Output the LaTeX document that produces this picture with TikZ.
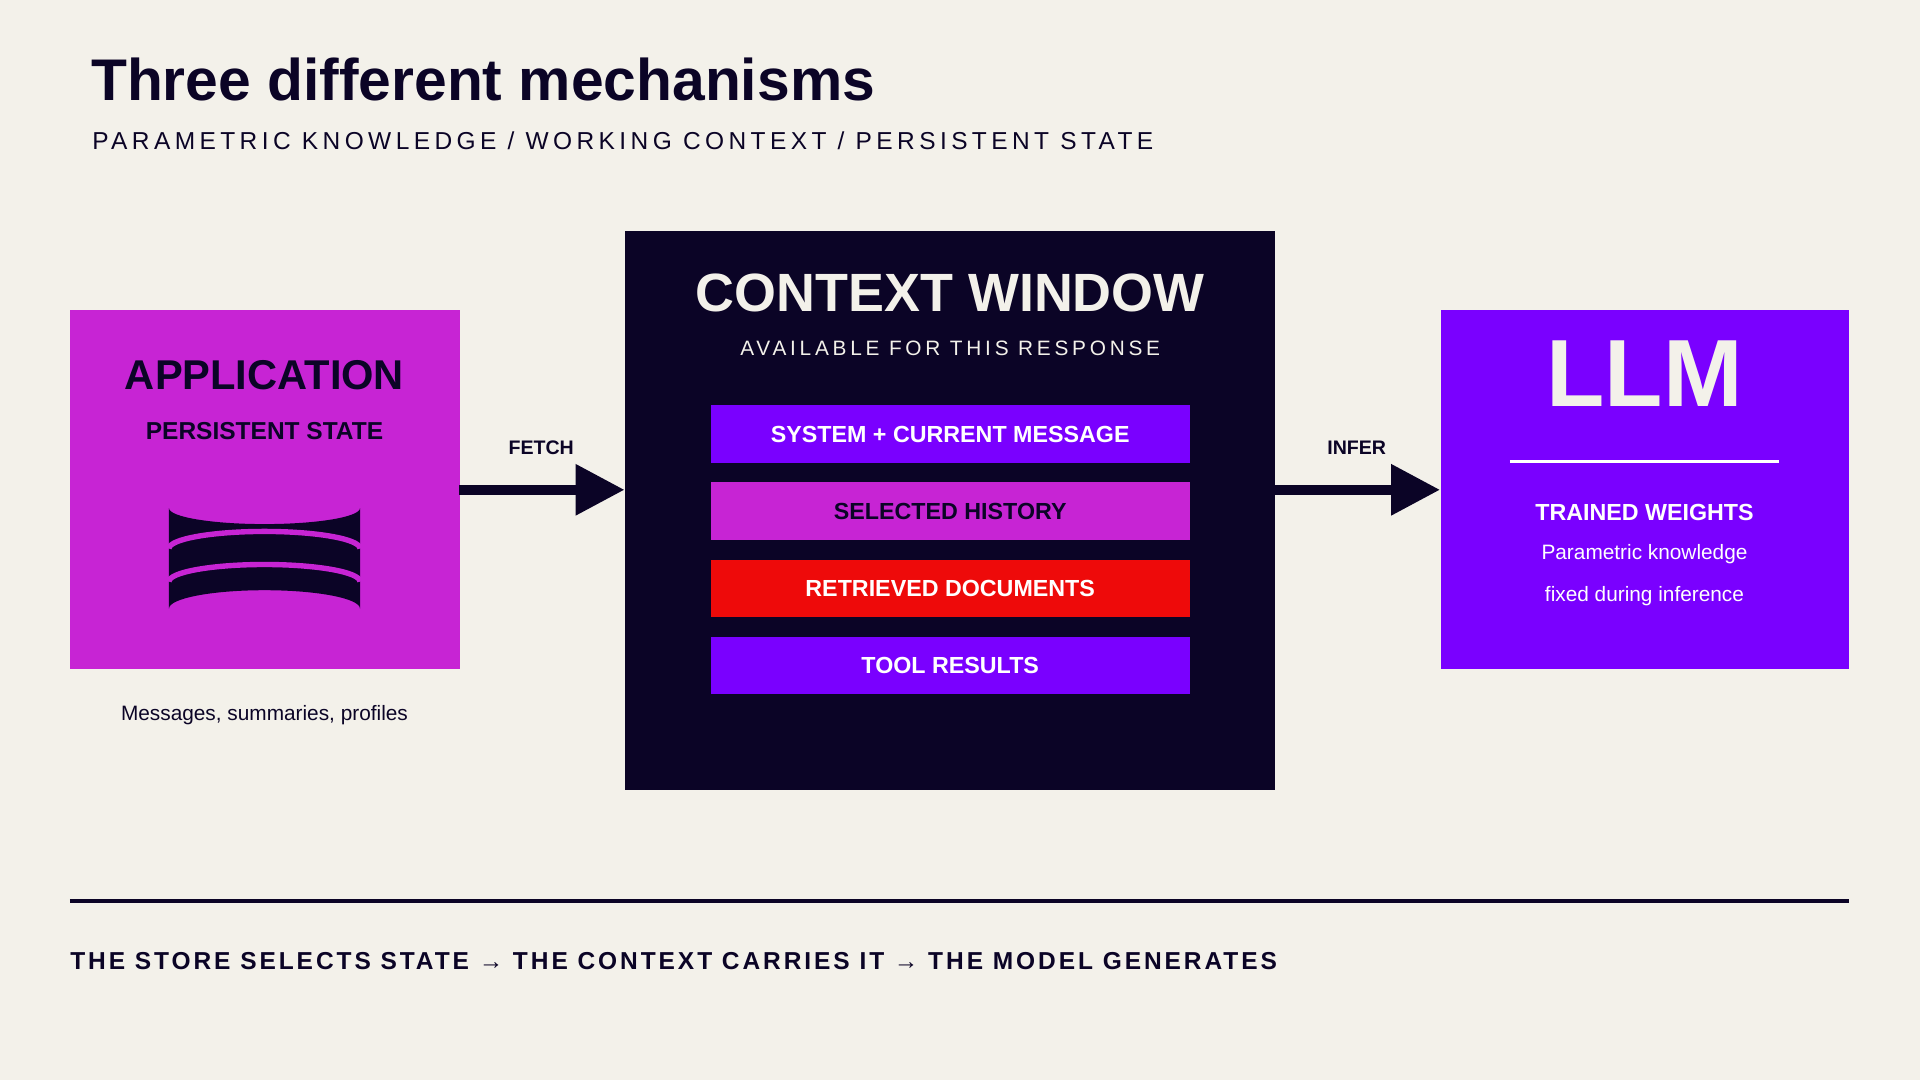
\documentclass[tikz,border=0pt]{standalone}
\usepackage{fontspec}
\setmainfont{Liberation Sans}
\usetikzlibrary{arrows.meta}
\definecolor{bg}{HTML}{F3F1EA}
\definecolor{ink}{HTML}{0B0426}
\definecolor{mag}{HTML}{C724D4}
\definecolor{vio}{HTML}{7A00FF}
\definecolor{red}{HTML}{EE0A0A}
\newcommand{\fs}[1]{\fontsize{#1}{#1}\selectfont}
\newfontfamily\spaced[LetterSpace=18]{Liberation Sans}
\newfontfamily\spacedb[LetterSpace=12]{Liberation Sans}
\begin{document}
\begin{tikzpicture}[x=0.5pt,y=-0.5pt,
  box/.style={draw=none,inner sep=0,anchor=north west},
  bar/.style={fill=#1,minimum width=195.5pt,minimum height=23.5pt,inner sep=0,font=\bfseries\fs{9.5pt}},
  lab/.style={inner sep=0,anchor=base},
  conn/.style={draw=ink,line width=4pt,-{Triangle[length=20pt,width=20pt]}}]
\fill[bg] (0,0) rectangle (1568,882);
\useasboundingbox (0,0) rectangle (1568,882);
% title
\node[lab,anchor=base west,text=ink] (title) at (74,82) {\bfseries\fs{24pt}Three different mechanisms};
\node[lab,anchor=base west,text=ink] (sub) at (75,122) {\spaced\fs{10pt}PARAMETRIC KNOWLEDGE / WORKING CONTEXT / PERSISTENT STATE};
% application
\node[box,fill=mag,minimum width=159pt,minimum height=146.5pt] (app) at (57,253) {};
\node[lab,text=ink] (apptitle) at (216,318) {\bfseries\fs{17pt}APPLICATION};
\node[lab,text=ink] (appsub) at (216,359) {\bfseries\fs{10pt}PERSISTENT STATE};
\fill[ink] (138,415) -- (138,497) arc[start angle=180,end angle=360,x radius=78,y radius=15] -- (294,415) arc[start angle=0,end angle=180,x radius=78,y radius=13];
\draw[mag,line width=2.2pt] (138,448) arc[start angle=180,end angle=360,x radius=78,y radius=14];
\draw[mag,line width=2.2pt] (138,475) arc[start angle=180,end angle=360,x radius=78,y radius=14];
\node[lab,text=ink] (appcap) at (216,588) {\fs{8.5pt}Messages, summaries, profiles};
% context window
\node[box,fill=ink,minimum width=265.5pt,minimum height=228.5pt] (cw) at (510,188) {};
\node[lab,text=bg] (cwtitle) at (776,254) {\bfseries\fs{22pt}CONTEXT WINDOW};
\node[lab,text=bg] (cwsub) at (776,290) {\spaced\fs{8.5pt}AVAILABLE FOR THIS RESPONSE};
\node[bar=vio,text=white] (b1) at (776,354.5) {SYSTEM + CURRENT MESSAGE};
\node[bar=mag,text=ink] (b2) at (776,417.5) {SELECTED HISTORY};
\node[bar=red,text=white] (b3) at (776,480.5) {RETRIEVED DOCUMENTS};
\node[bar=vio,text=white] (b4) at (776,543.5) {TOOL RESULTS};
% LLM
\node[box,fill=vio,minimum width=167pt,minimum height=146.5pt] (llm) at (1176,253) {};
\node[lab,text=bg] (llmtitle) at (1343,332) {\bfseries\fs{39pt}LLM};
\draw[white,line width=1.5pt] (1233,377) -- (1453,377);
\node[lab,text=white] (tw) at (1343,425) {\bfseries\fs{9.5pt}TRAINED WEIGHTS};
\node[lab,text=white] (pk) at (1343,457) {\fs{8.5pt}Parametric knowledge};
\node[lab,text=white] (fd) at (1343,491) {\fs{8.5pt}fixed during inference};
% connectors
\draw[conn] (375,400) coordinate (fs) -- (cw.west|-fs);
\node[lab,text=ink] (fetch) at (442,371) {\bfseries\fs{8pt}FETCH};
\draw[conn] (1041,400) coordinate (is) -- (llm.west|-is);
\node[lab,text=ink] (infer) at (1108,371) {\bfseries\fs{8pt}INFER};
% footer
\draw[ink,line width=1.5pt] (57,736) -- (1510,736);
\node[lab,anchor=base west,text=ink] (foot) at (57,792) {\spacedb\bfseries\fs{10pt}THE STORE SELECTS STATE → THE CONTEXT CARRIES IT → THE MODEL GENERATES};
\end{tikzpicture}
\end{document}
